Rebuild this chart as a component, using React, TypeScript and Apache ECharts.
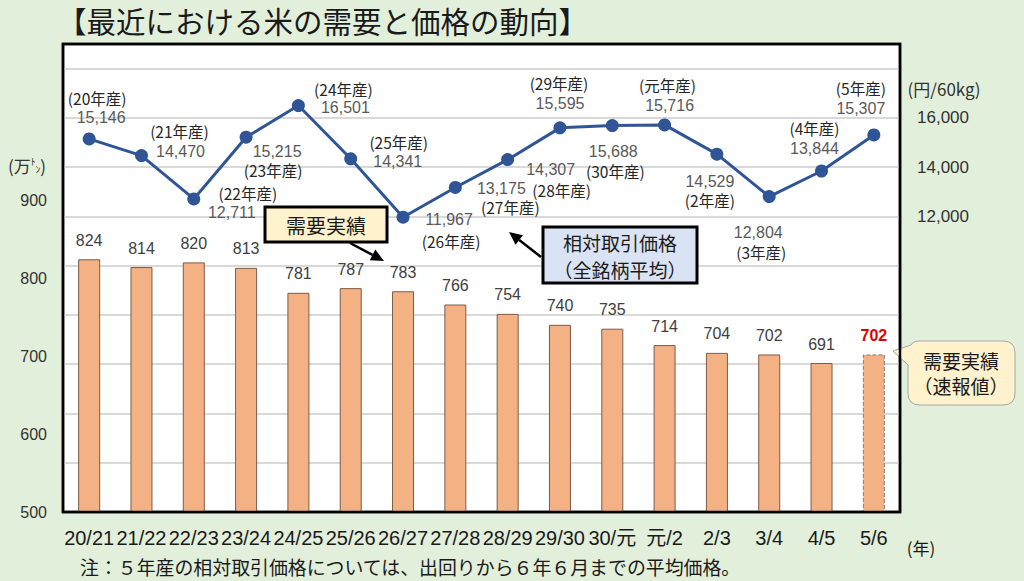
import React, { useEffect, useRef } from "react";
import * as echarts from "echarts";

const titleText = "【最近における米の需要と価格の動向】";
const noteText = "注：５年産の相対取引価格については、出回りから６年６月までの平均価格。";
const categories = ["20/21", "21/22", "22/23", "23/24", "24/25", "25/26", "26/27", "27/28", "28/29", "29/30", "30/元", "元/2", "2/3", "3/4", "4/5", "5/6"];
const demand = [824, 814, 820, 813, 781, 787, 783, 766, 754, 740, 735, 714, 704, 702, 691, 702];
const cropYears = ["20", "21", "22", "23", "24", "25", "26", "27", "28", "29", "30", "元", "2", "3", "4", "5"];
const prices = [15146, 14470, 12711, 15215, 16501, 14341, 11967, 13175, 14307, 15595, 15688, 15716, 14529, 12804, 13844, 15307];
const leftTicks = [500, 600, 700, 800, 900];
const rightTicks = [12000, 14000, 16000];

// label placement (offsets from each point, in px)
const yearOff = [[8, -41], [38, -25], [54, -6], [27, 33], [45, -17], [48, -17], [48, 24], [55, 20], [54, 30], [-1, -45], [3, 45], [3, -40], [-7, 46], [-8, 55], [-7, -43], [-13, -47]];
const valOff = [[12, -21], [39, -4], [38, 14], [31, 14], [47, 2], [47, 3], [46, 2], [46, 1], [43, 10], [0, -24], [1, 26], [5, -19], [-7, 27], [-11, 36], [-7, -23], [-13, -26]];

const CJK = '"Noto Sans CJK JP", sans-serif';
const NUM = '"Liberation Sans", Arial, sans-serif';

function arrow(x1: number, y1: number, x2: number, y2: number) {
  const dx = x2 - x1, dy = y2 - y1;
  const len = Math.sqrt(dx * dx + dy * dy);
  const ux = dx / len, uy = dy / len;
  const hl = 13, hw = 6;
  const bx = x2 - ux * hl, by = y2 - uy * hl;
  return [
    { type: "line", shape: { x1, y1, x2: bx, y2: by }, style: { stroke: "#000", lineWidth: 2.5 } },
    {
      type: "polygon",
      shape: { points: [[x2, y2], [bx - uy * hw, by + ux * hw], [bx + uy * hw, by - ux * hw]] },
      style: { fill: "#000" },
    },
  ];
}

function label(x: number, y: number, text: string, size: number, extra: any = {}) {
  return {
    type: "text",
    x,
    y,
    z: 11,
    style: {
      text,
      align: "center",
      verticalAlign: "middle",
      fontSize: size,
      lineHeight: size + 2,
      fontFamily: CJK,
      fill: "#1a1a1a",
      ...extra,
    },
  };
}

let registered = false;

export default function App() {
  const ref = useRef<HTMLDivElement>(null);
  useEffect(() => {
    if (!registered) {
      echarts.graphic.registerShape(
        "bubble",
        echarts.graphic.extendPath("M12,0 H95 Q107,0 107,12 V52 Q107,64 95,64 H12 Q0,64 0,52 V24 L-15,10 L3,4 Q5,0 12,0 Z", {})
      );
      registered = true;
    }
    const chart = echarts.init(ref.current!, null, { renderer: "svg" });
    const barData = demand.map((v, i) =>
      i === demand.length - 1
        ? {
            value: v,
            itemStyle: { borderType: "dashed", borderColor: "#7f7f7f", borderWidth: 1 },
            label: { color: "#e00000", fontWeight: "bold" },
          }
        : v
    );
    const yearData = prices.map((v, i) => ({
      value: v,
      label: { offset: yearOff[i] },
    }));
    const valData = prices.map((v, i) => ({
      value: v,
      label: { offset: valOff[i] },
    }));
    chart.setOption({
      animation: false,
      backgroundColor: "#E2EFDA",
      grid: {
        left: 63,
        right: 124,
        top: 44,
        bottom: 69,
        show: true,
        backgroundColor: "#ffffff",
        borderColor: "#000000",
        borderWidth: 2.5,
      },
      xAxis: {
        type: "category",
        data: categories,
        boundaryGap: true,
        axisLine: { show: false },
        axisTick: { show: false },
        axisLabel: {
          interval: 0,
          margin: 16,
          fontSize: 20,
          color: "#1a1a1a",
          fontFamily: '"Liberation Sans", "Noto Sans CJK JP", sans-serif',
        },
      },
      yAxis: [
        {
          type: "value",
          min: 500,
          max: 1100,
          interval: 100,
          axisLine: { show: false },
          axisTick: { show: false },
          splitLine: { show: false },
          axisLabel: {
            margin: 16,
            fontSize: 16,
            color: "#333",
            fontFamily: NUM,
            formatter: (v: number) => (leftTicks.includes(v) ? String(v) : ""),
          },
        },
        {
          type: "value",
          position: "right",
          min: 0,
          max: 19000,
          interval: 2000,
          axisLine: { show: false },
          axisTick: { show: false },
          splitLine: { show: true, lineStyle: { color: "#D9D9D9", width: 2 } },
          axisLabel: {
            margin: 17,
            fontSize: 17,
            color: "#333",
            fontFamily: NUM,
            formatter: (v: number) => (rightTicks.includes(v) ? v.toLocaleString("en-US") : ""),
          },
        },
      ],
      series: [
        {
          type: "bar",
          name: "需要実績",
          data: barData,
          yAxisIndex: 0,
          barWidth: 22,
          itemStyle: { color: "#F4B183", borderColor: "#7D5A48", borderWidth: 1 },
          label: {
            show: true,
            position: "top",
            distance: 11,
            fontSize: 16,
            color: "#404040",
            fontFamily: NUM,
          },
          z: 2,
        },
        {
          type: "line",
          name: "相対取引価格",
          data: yearData,
          yAxisIndex: 1,
          symbol: "circle",
          symbolSize: 13,
          lineStyle: { color: "#2F5597", width: 3 },
          itemStyle: { color: "#2F5597" },
          label: {
            show: true,
            position: "inside",
            fontSize: 15.5,
            lineHeight: 16,
            color: "#262626",
            fontFamily: CJK,
            formatter: (p: any) => "(" + cropYears[p.dataIndex] + "年産)",
          },
          z: 4,
        },
        {
          type: "line",
          name: "価格値",
          data: valData,
          yAxisIndex: 1,
          symbol: "circle",
          symbolSize: 1,
          silent: true,
          lineStyle: { opacity: 0 },
          itemStyle: { color: "transparent" },
          label: {
            show: true,
            position: "inside",
            fontSize: 16,
            lineHeight: 16,
            color: "#595959",
            fontFamily: NUM,
            formatter: (p: any) => Number(p.value).toLocaleString("en-US"),
          },
          z: 5,
        },
      ],
      graphic: [
        {
          type: "text",
          left: 57,
          top: 5,
          style: { text: titleText, fontSize: 29.5, fontFamily: CJK, fill: "#1a1a1a" },
        },
        {
          type: "rect",
          shape: { x: 63, y: 44, width: 837, height: 468 },
          style: { fill: "none", stroke: "#000", lineWidth: 2.5 },
          silent: true,
          z: 20,
        },
        {
          type: "text",
          x: 27,
          y: 165,
          style: {
            text: "(万{s|ﾄ}{t|ﾝ})",
            align: "center",
            verticalAlign: "middle",
            fontSize: 17,
            fontFamily: CJK,
            fill: "#333",
            rich: {
              s: { fontSize: 9.5, fontFamily: CJK, fill: "#333", verticalAlign: "top", padding: [0, 0, 6, 0] },
              t: { fontSize: 9.5, fontFamily: CJK, fill: "#333", verticalAlign: "bottom" },
            },
          },
        },
        label(944, 88, "(円/60kg)", 17, { fill: "#333" }),
        label(921, 547, "(年)", 17),
        {
          type: "text",
          x: 80,
          y: 566,
          style: { text: noteText, align: "left", verticalAlign: "middle", fontSize: 18.9, lineHeight: 20, fontFamily: CJK, fill: "#1a1a1a" },
        },
        {
          type: "rect",
          shape: { x: 265, y: 207, width: 122, height: 35 },
          style: { fill: "#FFF2CC", stroke: "#000", lineWidth: 3 },
          z: 10,
        },
        label(326, 225, "需要実績", 20),
        ...arrow(350, 243, 384, 261).map((e) => ({ ...e, z: 10 })),
        {
          type: "rect",
          shape: { x: 543, y: 227, width: 154, height: 56 },
          style: { fill: "#DAE3F3", stroke: "#000", lineWidth: 3 },
          z: 10,
        },
        label(620, 242, "相対取引価格", 19),
        label(620, 269, "（全銘柄平均）", 19),
        ...arrow(541, 257, 509, 232).map((e) => ({ ...e, z: 10 })),
        {
          type: "bubble",
          x: 908,
          y: 341,
          style: { fill: "#FFF2CC", stroke: "#A6A6A6", lineWidth: 1 },
          z: 10,
        },
        label(961, 360, "需要実績", 19),
        label(961, 385, "（速報値）", 19),
      ],
    });
    return () => chart.dispose();
  }, []);
  return (
    <div
      ref={ref}
      style={{ position: "fixed", left: 0, top: 0, width: 1024, height: 581 }}
    />
  );
}
